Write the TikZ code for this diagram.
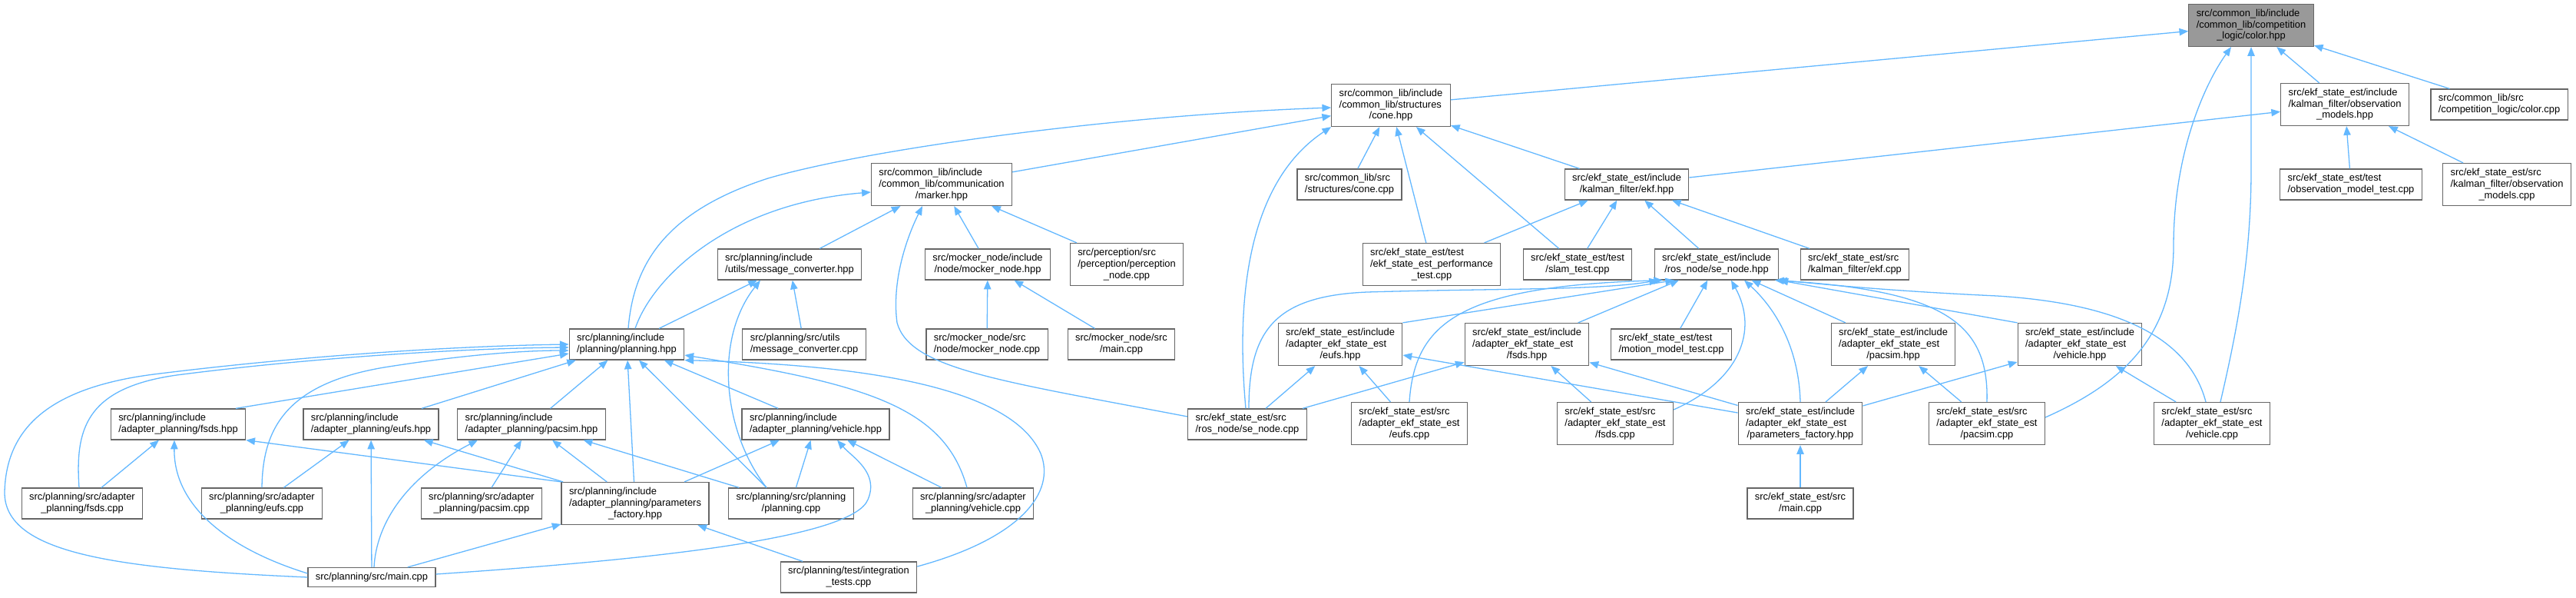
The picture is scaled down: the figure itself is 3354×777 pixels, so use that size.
\documentclass[tikz,border=0pt]{standalone}
\usepackage{fontspec}
\setmainfont{Liberation Sans}
\usetikzlibrary{arrows.meta}
\definecolor{edgeblue}{HTML}{63B8FF}
\definecolor{boxgray}{HTML}{666666}
\definecolor{maingray}{HTML}{999999}
\newcommand{\twoline}[2]{\begin{tabular}{@{}l@{}}#1\\\multicolumn{1}{@{}c@{}}{#2}\end{tabular}}
\newcommand{\threeline}[3]{\begin{tabular}{@{}l@{}}#1\\#2\\\multicolumn{1}{@{}c@{}}{#3}\end{tabular}}

\begin{document}
\begin{tikzpicture}[x=0.03cm, y=-0.03cm,
  file/.style={draw=boxgray, fill=white, line width=1pt, inner xsep=8.5pt, inner ysep=4.3pt, font=\fontsize{11}{12.8}\selectfont},
  dep/.style={draw=edgeblue, line width=1.1pt, -{Triangle[length=10pt,width=8pt]}}]
\path[use as bounding box, fill=white] (0,0) rectangle (3354,777);

\node[file, fill=maingray] (colorh) at (2931,33) {\threeline{src/common\_lib/include}{/common\_lib/competition}{\_logic/color.hpp}};
\node[file] (coneh) at (1811,137) {\threeline{src/common\_lib/include}{/common\_lib/structures}{/cone.hpp}};
\node[file] (obsh) at (3053,136) {\threeline{src/ekf\_state\_est/include}{/kalman\_filter/observation}{\_models.hpp}};
\node[file] (colorc) at (3254,136) {\twoline{src/common\_lib/src}{/competition\_logic/color.cpp}};
\node[file] (markerh) at (1226,240) {\threeline{src/common\_lib/include}{/common\_lib/communication}{/marker.hpp}};
\node[file] (conec) at (1757,240) {\twoline{src/common\_lib/src}{/structures/cone.cpp}};
\node[file] (ekfh) at (2118,240) {\twoline{src/ekf\_state\_est/include}{/kalman\_filter/ekf.hpp}};
\node[file] (obstest) at (3061,240) {\twoline{src/ekf\_state\_est/test}{/observation\_model\_test.cpp}};
\node[file] (obsc) at (3264,240) {\threeline{src/ekf\_state\_est/src}{/kalman\_filter/observation}{\_models.cpp}};
\node[file] (convh) at (1028,344) {\twoline{src/planning/include}{/utils/message\_converter.hpp}};
\node[file] (mockh) at (1286,344) {\twoline{src/mocker\_node/include}{/node/mocker\_node.hpp}};
\node[file] (percc) at (1467,344) {\threeline{src/perception/src}{/perception/perception}{\_node.cpp}};
\node[file] (perftest) at (1864,344) {\threeline{src/ekf\_state\_est/test}{/ekf\_state\_est\_performance}{\_test.cpp}};
\node[file] (slamtest) at (2054,344) {\twoline{src/ekf\_state\_est/test}{/slam\_test.cpp}};
\node[file] (senodeh) at (2235,344) {\twoline{src/ekf\_state\_est/include}{/ros\_node/se\_node.hpp}};
\node[file] (ekfc) at (2415,344) {\twoline{src/ekf\_state\_est/src}{/kalman\_filter/ekf.cpp}};
\node[file] (planh) at (816,448) {\twoline{src/planning/include}{/planning/planning.hpp}};
\node[file] (convc) at (1047,448) {\twoline{src/planning/src/utils}{/message\_converter.cpp}};
\node[file] (mockc) at (1285,448) {\twoline{src/mocker\_node/src}{/node/mocker\_node.cpp}};
\node[file] (mockmain) at (1460,448) {\twoline{src/mocker\_node/src}{/main.cpp}};
\node[file] (eeufsh) at (1745,448) {\threeline{src/ekf\_state\_est/include}{/adapter\_ekf\_state\_est}{/eufs.hpp}};
\node[file] (efsdsh) at (1988,448) {\threeline{src/ekf\_state\_est/include}{/adapter\_ekf\_state\_est}{/fsds.hpp}};
\node[file] (motiontest) at (2176,448) {\twoline{src/ekf\_state\_est/test}{/motion\_model\_test.cpp}};
\node[file] (epacsimh) at (2465,448) {\threeline{src/ekf\_state\_est/include}{/adapter\_ekf\_state\_est}{/pacsim.hpp}};
\node[file] (evehh) at (2708,448) {\threeline{src/ekf\_state\_est/include}{/adapter\_ekf\_state\_est}{/vehicle.hpp}};
\node[file] (pfsdsh) at (232,552) {\twoline{src/planning/include}{/adapter\_planning/fsds.hpp}};
\node[file] (peufsh) at (483,552) {\twoline{src/planning/include}{/adapter\_planning/eufs.hpp}};
\node[file] (ppacsimh) at (692,552) {\twoline{src/planning/include}{/adapter\_planning/pacsim.hpp}};
\node[file] (pvehh) at (1062,552) {\twoline{src/planning/include}{/adapter\_planning/vehicle.hpp}};
\node[file] (senodec) at (1624,552) {\twoline{src/ekf\_state\_est/src}{/ros\_node/se\_node.cpp}};
\node[file] (eeufsc) at (1835,551) {\threeline{src/ekf\_state\_est/src}{/adapter\_ekf\_state\_est}{/eufs.cpp}};
\node[file] (efsdsc) at (2103,551) {\threeline{src/ekf\_state\_est/src}{/adapter\_ekf\_state\_est}{/fsds.cpp}};
\node[file] (eparamh) at (2344,551) {\threeline{src/ekf\_state\_est/include}{/adapter\_ekf\_state\_est}{/parameters\_factory.hpp}};
\node[file] (epacsimc) at (2587,551) {\threeline{src/ekf\_state\_est/src}{/adapter\_ekf\_state\_est}{/pacsim.cpp}};
\node[file] (evehc) at (2880,551) {\threeline{src/ekf\_state\_est/src}{/adapter\_ekf\_state\_est}{/vehicle.cpp}};
\node[file] (pfsdsc) at (107,655) {\twoline{src/planning/src/adapter}{\_planning/fsds.cpp}};
\node[file] (peufsc) at (341,655) {\twoline{src/planning/src/adapter}{\_planning/eufs.cpp}};
\node[file] (ppacsimc) at (627,655) {\twoline{src/planning/src/adapter}{\_planning/pacsim.cpp}};
\node[file] (pparamh) at (827,655) {\threeline{src/planning/include}{/adapter\_planning/parameters}{\_factory.hpp}};
\node[file] (planc) at (1030,655) {\twoline{src/planning/src/planning}{/planning.cpp}};
\node[file] (pvehc) at (1267,655) {\twoline{src/planning/src/adapter}{\_planning/vehicle.cpp}};
\node[file] (emain) at (2344,655) {\twoline{src/ekf\_state\_est/src}{/main.cpp}};
\node[file] (pmain) at (484,751) {\strut src/planning/src/main.cpp};
\node[file] (itest) at (1105,751) {\twoline{src/planning/test/integration}{\_tests.cpp}};

\draw[dep] (coneh) -- (colorh);
\draw[dep] (obsh) -- (colorh);
\draw[dep] (colorc) -- (colorh);
\draw[dep] ([shift={(0,-8)}]epacsimc.east) .. controls (2760,500) and (2830,440) .. (2830,320) .. controls (2830,200) and (2870,110) .. ([shift={(-26,0)}]colorh.south);
\draw[dep] ([shift={(11,0)}]evehc.north) .. controls (2915,420) and (2931,330) .. (2931,220) -- (colorh.south);
\draw[dep] (ekfh) -- (obsh);
\draw[dep] (obstest) -- (obsh);
\draw[dep] (obsc) -- (obsh);

\draw[dep] (markerh) -- (coneh);
\draw[dep] ([shift={(2,0)}]planh.north) .. controls (825,340) and (870,274) .. (1000,232) .. controls (1130,194) and (1450,150) .. ([shift={(0,3)}]coneh.west);
\draw[dep] (conec) -- (coneh);
\draw[dep] (perftest) -- (coneh);
\draw[dep] (slamtest) -- (coneh);
\draw[dep] (ekfh) -- (coneh);
\draw[dep] ([shift={(-2,0)}]senodec.north) .. controls (1610,400) and (1620,240) .. (coneh.south west);

\draw[dep] ([shift={(11,0)}]planh.north) .. controls (850,360) and (950,265) .. ([shift={(0,10)}]markerh.west);
\draw[dep] (convh) -- (markerh);
\draw[dep] (mockh) -- (markerh);
\draw[dep] (percc) -- (markerh);
\draw[dep] ([shift={(0,-10)}]senodec.west) .. controls (1300,495) and (1185,480) .. (1168,420) .. controls (1160,360) and (1185,300) .. ([shift={(-25,0)}]markerh.south);

\draw[dep] (planh) -- (convh);
\draw[dep] ([shift={(-32,0)}]planc.north) .. controls (940,560) and (930,440) .. ([shift={(-38,0)}]convh.south);
\draw[dep] (convc) -- (convh);
\draw[dep] (mockc) -- (mockh);
\draw[dep] (mockmain) -- (mockh);

\draw[dep] (perftest) -- (ekfh);
\draw[dep] (slamtest) -- (ekfh);
\draw[dep] (senodeh) -- (ekfh);
\draw[dep] (ekfc) -- (ekfh);

\draw[dep] ([shift={(2,0)}]senodec.north) .. controls (1626,430) and (1660,385) .. (1780,380) .. controls (1950,375) and (2080,378) .. ([shift={(-76,0)}]senodeh.south);
\draw[dep] (eeufsh.north east) -- ([shift={(-55,0)}]senodeh.south);
\draw[dep] (efsdsh) -- (senodeh);
\draw[dep] (motiontest) -- (senodeh);
\draw[dep] (eeufsc.north) .. controls (1842,420) and (1900,372) .. ([shift={(-70,0)}]senodeh.south);
\draw[dep] ([shift={(0,-18)}]efsdsc.east) .. controls (2265,495) and (2290,430) .. ([shift={(19,0)}]senodeh.south);
\draw[dep] (eparamh.north) .. controls (2342,450) and (2310,400) .. ([shift={(36,0)}]senodeh.south);
\draw[dep] (epacsimh) -- (senodeh);
\draw[dep] (epacsimc.north) .. controls (2590,420) and (2530,378) .. ([shift={(76,0)}]senodeh.south);
\draw[dep] (evehh.north west) -- (senodeh.south east);
\draw[dep] ([shift={(-8,0)}]evehc.north) .. controls (2850,440) and (2760,395) .. (2600,385) .. controls (2450,378) and (2380,370) .. ([shift={(80,0)}]senodeh.south);

\draw[dep] (senodec) -- (eeufsh);
\draw[dep] (eeufsc) -- (eeufsh);
\draw[dep] (eparamh) -- (eeufsh);
\draw[dep] (senodec) -- (efsdsh);
\draw[dep] (efsdsc) -- (efsdsh);
\draw[dep] (eparamh) -- (efsdsh);
\draw[dep] (eparamh) -- (epacsimh);
\draw[dep] (epacsimc) -- (epacsimh);
\draw[dep] (eparamh) -- (evehh);
\draw[dep] (evehc) -- (evehh);
\draw[dep] (emain) -- (eparamh);

\draw[dep] ([shift={(75,0)}]pfsdsh.north) -- ([shift={(0,12)}]planh.west);
\draw[dep] (peufsh) -- (planh);
\draw[dep] (ppacsimh) -- (planh);
\draw[dep] (pparamh) -- (planh);
\draw[dep] ([shift={(-32,0)}]planc.north) -- ([shift={(16,0)}]planh.south);
\draw[dep] (pvehh) -- (planh);
\draw[dep] ([shift={(-8,0)}]pvehc.north) .. controls (1230,530) and (1130,500) .. ([shift={(0,14)}]planh.east);
\draw[dep] ([shift={(0,-14)}]itest.east) .. controls (1330,700) and (1375,640) .. (1355,590) .. controls (1320,510) and (1150,475) .. (planh.south east);
\draw[dep] ([shift={(-4,0)}]pfsdsc.north) .. controls (98,560) and (110,505) .. (230,488) .. controls (400,466) and (600,453) .. ([shift={(0,4)}]planh.west);
\draw[dep] (peufsc.north) .. controls (342,560) and (370,500) .. (500,478) .. controls (600,462) and (680,456) .. ([shift={(0,8)}]planh.west);
\draw[dep] (pmain.west) .. controls (150,740) and (5,720) .. (6,640) .. controls (8,560) and (60,505) .. (200,487) .. controls (400,462) and (600,450) .. (planh.west);

\draw[dep] (pfsdsc) -- (pfsdsh);
\draw[dep] ([shift={(0,-5)}]pmain.west) .. controls (300,715) and (226,660) .. ([shift={(-5,0)}]pfsdsh.south);
\draw[dep] (pparamh.north west) -- (pfsdsh.south east);
\draw[dep] (peufsc) -- (peufsh);
\draw[dep] (pmain) -- (peufsh);
\draw[dep] (pparamh) -- (peufsh);
\draw[dep] ([shift={(3,0)}]pmain.north) .. controls (490,680) and (530,620) .. ([shift={(-70,0)}]ppacsimh.south);
\draw[dep] (ppacsimc) -- (ppacsimh);
\draw[dep] (pparamh) -- (ppacsimh);
\draw[dep] (planc) -- (ppacsimh);
\draw[dep] (pparamh) -- (pvehh);
\draw[dep] (planc) -- (pvehh);
\draw[dep] ([shift={(0,-4)}]pmain.east) .. controls (850,728) and (1110,700) .. (1130,650) .. controls (1145,615) and (1110,595) .. ([shift={(28,0)}]pvehh.south);
\draw[dep] (pvehc) -- (pvehh);
\draw[dep] (pmain) -- (pparamh);
\draw[dep] (itest) -- (pparamh);
\end{tikzpicture}
\end{document}
